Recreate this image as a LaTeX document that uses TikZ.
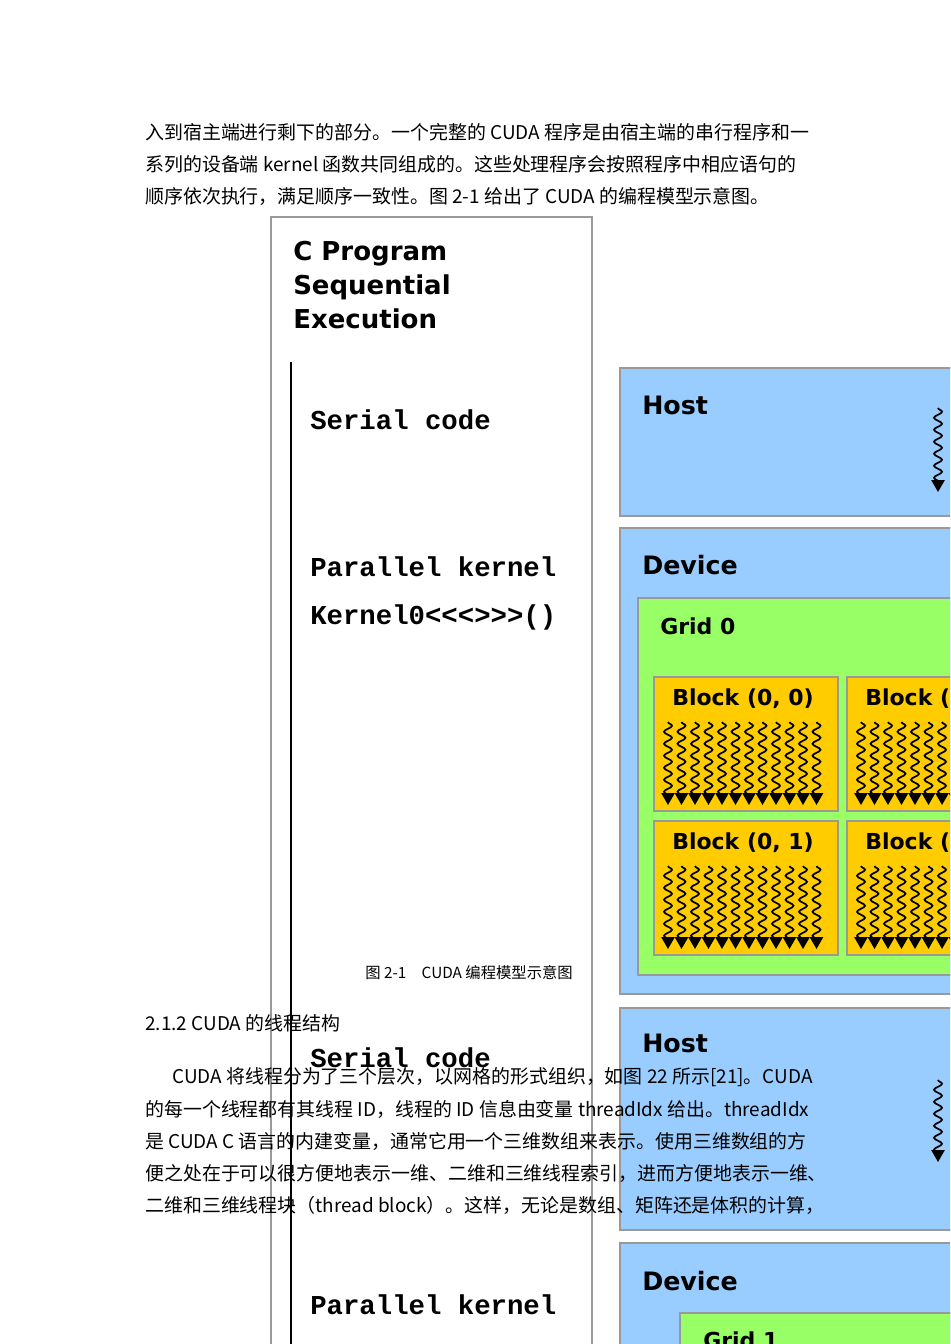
\documentclass[tikz,border=0pt]{standalone}
\usepackage{fontspec}
\setsansfont{DejaVu Sans}
\setmonofont{Liberation Mono}
\newfontfamily\cjk{Noto Sans CJK SC}
\usetikzlibrary{arrows.meta,decorations.pathmorphing}
\definecolor{hostblue}{HTML}{99CCFF}
\definecolor{gridgreen}{HTML}{99FF66}
\definecolor{blockgold}{HTML}{FFCC00}
\definecolor{frame}{HTML}{999999}
\tikzset{
  body/.style={anchor=west, inner sep=0pt, font=\cjk\fontsize{14.2}{14}\selectfont},
  head/.style={anchor=west, inner sep=0pt, font=\sffamily\bfseries\fontsize{19}{19}\selectfont},
  code/.style={anchor=west, inner sep=0pt, font=\ttfamily\bfseries\fontsize{20.5}{20}\selectfont},
  panel/.style={draw=frame, line width=2.2pt},
  thread/.style={decorate, decoration={snake, segment length=9pt, amplitude=3pt, post length=6pt},
    line width=1.3pt, -{Triangle[width=10pt,length=9pt]}},
}
\begin{document}
\begin{tikzpicture}[x=0.75pt,y=-0.75pt]
  \useasboundingbox (0,0) rectangle (950,1344);
  \clip (0,0) rectangle (950,1344);
  \fill[white] (0,0) rectangle (950,1344);

  % program column
  \draw[draw=frame, line width=1.6pt] (271,1400) -- (271,217) -- (592,217) -- (592,1400);
  \node[anchor=north west, inner sep=0pt, align=left,
    font=\sffamily\bfseries\fontsize{19.5}{25.5}\selectfont] (title) at (293,241) {C Program\\Sequential\\Execution};
  \draw[line width=1.8pt] (291,362) -- (291,1400);
  \node[code] (ser0) at (310,420) {Serial code};
  \node[code] (par0) at (310,567) {Parallel kernel};
  \node[code] (ker0) at (310,617) {Kernel0<<<>>>()};
  \node[code] (ser1) at (310,1058) {Serial code};
  \node[code] (par1) at (310,1305) {Parallel kernel};

  % host and device panels
  \draw[panel, fill=hostblue] (620,368) rectangle (1000,516);
  \node[head] (host0) at (642,405) {Host};
  \draw[thread] (938,408) -- (938,492);
  \draw[panel, fill=hostblue] (620,528) rectangle (1000,994);
  \node[head] (dev0) at (642,565) {Device};
  \draw[panel, fill=gridgreen] (638,598) rectangle (1000,975);
  \node[head, font=\sffamily\bfseries\fontsize{16.5}{16}\selectfont] (grid0) at (660,626) {Grid 0};
  \foreach \bx/\bc in {654/0,847/1}{
    \foreach \by/\br in {677/0,821/1}{
      \draw[panel, fill=blockgold] (\bx,\by) rectangle (\bx+184,\by+134);
      \node[head, font=\sffamily\bfseries\fontsize{16.5}{16}\selectfont] (blk\bc\br) at (\bx+18,\by+22) {Block (\bc, \br)};
      \foreach \t in {0,...,11}
        \draw[thread] (\bx+14+\t*13.5,\by+45) -- (\bx+14+\t*13.5,\by+128);
    }
  }
  \draw[panel, fill=hostblue] (620,1008) rectangle (1000,1230);
  \node[head] (host1) at (642,1043) {Host};
  \draw[thread] (938,1080) -- (938,1162);
  \draw[panel, fill=hostblue] (620,1243) rectangle (1000,1400);
  \node[head] (dev1) at (642,1281) {Device};
  \draw[panel, fill=gridgreen] (680,1313) rectangle (1000,1400);
  \node[head, font=\sffamily\bfseries\fontsize{16.5}{16}\selectfont] (grid1) at (703,1340) {Grid 1};

  % page text
  \node[body] (l1) at (145,132) {入到宿主端进行剩下的部分。一个完整的 CUDA 程序是由宿主端的串行程序和一};
  \node[body] (l2) at (145,164) {系列的设备端 kernel 函数共同组成的。这些处理程序会按照程序中相应语句的};
  \node[body] (l3) at (145,196) {顺序依次执行，满足顺序一致性。图 2-1 给出了 CUDA 的编程模型示意图。};
  \node[body, font=\cjk\fontsize{11.5}{11.5}\selectfont] (cap) at (365,973) {图 2-1\quad CUDA 编程模型示意图};
  \node[body] (sec) at (145,1023) {2.1.2 CUDA 的线程结构};
  \node[body] (p1) at (172,1077) {CUDA 将线程分为了三个层次，以网格的形式组织，如图 22 所示[21]。CUDA};
  \node[body] (p2) at (145,1109) {的每一个线程都有其线程 ID，线程的 ID 信息由变量 threadIdx 给出。threadIdx};
  \node[body] (p3) at (145,1141) {是 CUDA C 语言的内建变量，通常它用一个三维数组来表示。使用三维数组的方};
  \node[body] (p4) at (145,1173) {便之处在于可以很方便地表示一维、二维和三维线程索引，进而方便地表示一维、};
  \node[body] (p5) at (145,1205) {二维和三维线程块（thread block）。这样，无论是数组、矩阵还是体积的计算，};
\end{tikzpicture}
\end{document}
